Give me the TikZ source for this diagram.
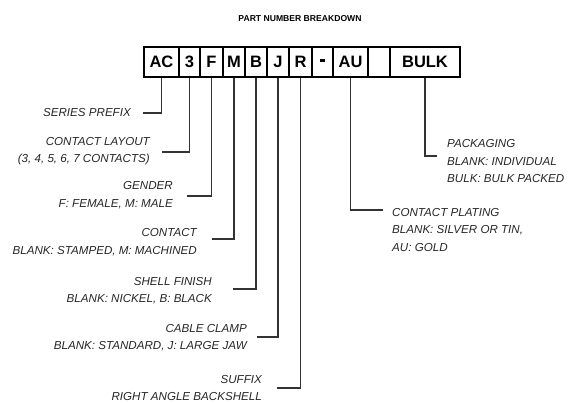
\documentclass[tikz,border=0pt]{standalone}
\usepackage{fontspec}
\setmainfont{Liberation Sans}
\begin{document}
\begin{tikzpicture}[x=1pt,y=-1pt,
  cell/.style={draw=black, line width=1.3pt, minimum height=30pt, inner sep=0pt,
    font=\fontsize{16.5}{18}\selectfont\bfseries},
  lbl/.style={inner sep=0pt, font=\fontsize{11.6}{17.5}\selectfont\itshape, text=black!85},
  lead/.style={draw=black!80, line width=1.2pt}]
\useasboundingbox (0,0) rectangle (568,403);
\node[font=\fontsize{8.6}{10}\selectfont\bfseries] (title) at (300,19) {PART NUMBER BREAKDOWN};
% cells
\node[cell, minimum width=35pt] (c1) at (161.5,62) {AC};
\node[cell, minimum width=21pt] (c2) at (189.5,62) {3};
\node[cell, minimum width=23pt] (c3) at (211.5,62) {F};
\node[cell, minimum width=22pt] (c4) at (234,62) {M};
\node[cell, minimum width=22pt] (c5) at (256,62) {B};
\node[cell, minimum width=22pt] (c6) at (278,62) {J};
\node[cell, minimum width=23pt] (c7) at (300.5,62) {R};
\node[cell, minimum width=21pt] (c8) at (322.5,62) {\rule[2pt]{5pt}{3pt}};
\node[cell, minimum width=35pt] (c9) at (350.5,62) {AU};
\node[cell, minimum width=22pt] (c10) at (379,62) {};
\node[cell, minimum width=70pt] (c11) at (425,62) {BULK};
% labels
\node[lbl, anchor=east, align=right] (l1) at (131,113) {SERIES PREFIX};
\node[lbl, anchor=east, align=right] (l2) at (150,151) {CONTACT LAYOUT\\(3, 4, 5, 6, 7 CONTACTS)};
\node[lbl, anchor=east, align=right] (l3) at (173,195) {GENDER\\F: FEMALE, M: MALE};
\node[lbl, anchor=east, align=right] (l4) at (197,242) {CONTACT\\BLANK: STAMPED, M: MACHINED};
\node[lbl, anchor=east, align=right] (l5) at (212,290.5) {SHELL FINISH\\BLANK: NICKEL, B: BLACK};
\node[lbl, anchor=east, align=right] (l6) at (247,337.5) {CABLE CLAMP\\BLANK: STANDARD, J: LARGE JAW};
\node[lbl, anchor=east, align=right] (l7) at (262,388) {SUFFIX\\RIGHT ANGLE BACKSHELL};
\node[lbl, anchor=west, align=left] (l9) at (392,230) {CONTACT PLATING\\BLANK: SILVER OR TIN,\\AU: GOLD};
\node[lbl, anchor=west, align=left] (l11) at (447,161.5) {PACKAGING\\BLANK: INDIVIDUAL\\BULK: BULK PACKED};
% leader ends
\coordinate (e1) at (143,113);
\coordinate (e2) at (162,152);
\coordinate (e3) at (187,196);
\coordinate (e4) at (212,239);
\coordinate (e5) at (233,289);
\coordinate (e6) at (257,337);
\coordinate (e7) at (277,388);
\coordinate (e9) at (383,210);
\coordinate (e11) at (437,156);
% leaders
\draw[lead] (c1.south) |- (e1);
\draw[lead] (c2.south) |- (e2);
\draw[lead] (c3.south) |- (e3);
\draw[lead] (c4.south) |- (e4);
\draw[lead] (c5.south) |- (e5);
\draw[lead] (c6.south) |- (e6);
\draw[lead] (c7.south) |- (e7);
\draw[lead] (c9.south) |- (e9);
\draw[lead] (c11.south) |- (e11);
\end{tikzpicture}
\end{document}
